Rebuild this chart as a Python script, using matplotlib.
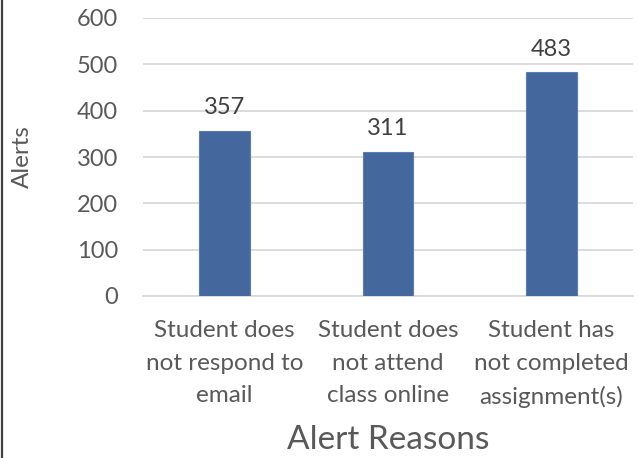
import matplotlib
matplotlib.use("Agg")
import matplotlib.pyplot as plt
from matplotlib.lines import Line2D

categories = ["Student does\nnot respond to\nemail",
              "Student does\nnot attend\nclass online",
              "Student has\nnot completed\nassignment(s)"]
values = [357, 311, 483]
yticks = [0, 100, 200, 300, 400, 500, 600]

plt.rcParams['font.family'] = ['Lato', 'DejaVu Sans']

fig = plt.figure(figsize=(6.38, 4.58), dpi=100)
ax = fig.add_axes([143/638, 1-296/458, (633-143)/638, (296-18)/458])

x = range(len(categories))
bars = ax.bar(x, values, width=0.31, color="#44679E", edgecolor="#5A7DB5", linewidth=0.8, zorder=3)
for xi, v in zip(x, values):
    ax.annotate(str(v), (xi, v), xytext=(0, 9), textcoords="offset points",
                ha="center", va="bottom", fontsize=17, color="#404040")

ax.set_xlim(-0.5, len(categories) - 0.5)
ax.set_ylim(0, 600)
ax.set_yticks(yticks)
ax.set_yticklabels([str(t) for t in yticks], fontsize=17, color="#595959")
ax.set_xticks(list(x))
ax.set_xticklabels(categories, fontsize=17.5, color="#595959", linespacing=1.7)
ax.tick_params(axis="x", length=0, pad=17)
ax.tick_params(axis="y", length=0, pad=18)
ax.grid(axis="y", color="#D9D9D9", linewidth=1.3, zorder=0)
for s in ["top", "right", "left"]:
    ax.spines[s].set_visible(False)
ax.spines["bottom"].set_color("#D9D9D9")
ax.spines["bottom"].set_linewidth(1.3)

ax.set_xlabel("Alert Reasons", fontsize=24, color="#595959")
ax.xaxis.set_label_coords(0.5, (296-440)/278)
ax.xaxis.label.set_va("center")
ax.set_ylabel("Alerts", fontsize=17.5, color="#595959")
ax.yaxis.set_label_coords((22-143)/490, 0.5)
ax.yaxis.label.set_va("center")

fig.add_artist(Line2D([2.5/638, 2.5/638], [0, 1], transform=fig.transFigure,
                      color="#404040", linewidth=1.6))

fig.savefig("out.png", dpi=100)
